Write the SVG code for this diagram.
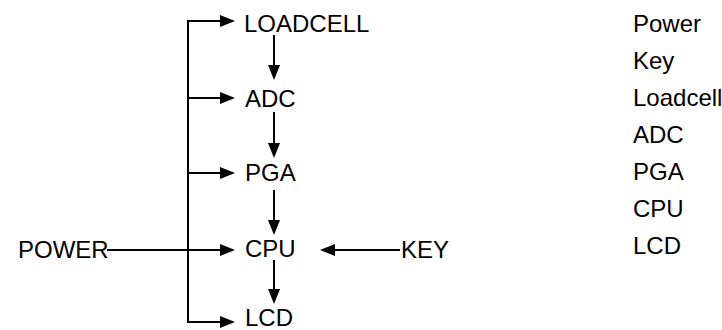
<svg xmlns="http://www.w3.org/2000/svg" width="722" height="330" viewBox="0 0 722 330">
<style>
text{font-family:"Liberation Sans",Arial,sans-serif;font-size:24px;fill:#000}
.c{stroke:#000;stroke-width:2;fill:none}
</style>
<defs>
<marker id="ah" markerUnits="userSpaceOnUse" markerWidth="15" markerHeight="12" refX="3" refY="6" orient="auto">
<path d="M0,0 L15,6 L0,12 z" fill="#000"/>
</marker>
</defs>
<rect width="722" height="330" fill="#fff"/>
<g id="connectors">
<path class="c" d="M200,21 H188 V322 H200"/>
<line class="c" x1="188" y1="21" x2="223" y2="21" marker-end="url(#ah)"/>
<line class="c" x1="188" y1="98" x2="223" y2="98" marker-end="url(#ah)"/>
<line class="c" x1="188" y1="173" x2="223" y2="173" marker-end="url(#ah)"/>
<line class="c" x1="107" y1="250" x2="223" y2="250" marker-end="url(#ah)"/>
<line class="c" x1="188" y1="322" x2="223" y2="322" marker-end="url(#ah)"/>
<line class="c" x1="400" y1="250" x2="332" y2="250" marker-end="url(#ah)"/>
<line class="c" x1="274" y1="35" x2="274" y2="68" marker-end="url(#ah)"/>
<line class="c" x1="274" y1="112" x2="274" y2="146" marker-end="url(#ah)"/>
<line class="c" x1="274" y1="190" x2="274" y2="223" marker-end="url(#ah)"/>
<line class="c" x1="274" y1="260" x2="274" y2="292" marker-end="url(#ah)"/>
</g>
<g id="loadcell"><text x="244" y="32">LOADCELL</text></g>
<g id="adc"><text x="245" y="107">ADC</text></g>
<g id="pga"><text x="245" y="181">PGA</text></g>
<g id="cpu"><text x="245" y="257">CPU</text></g>
<g id="lcd"><text x="245" y="326">LCD</text></g>
<g id="power"><text x="18" y="258">POWER</text></g>
<g id="key"><text x="401" y="258">KEY</text></g>
<g id="legend">
<text x="633" y="32">Power</text>
<text x="633" y="69">Key</text>
<text x="633" y="106">Loadcell</text>
<text x="633" y="143">ADC</text>
<text x="633" y="180">PGA</text>
<text x="633" y="217">CPU</text>
<text x="633" y="254">LCD</text>
</g>
</svg>
